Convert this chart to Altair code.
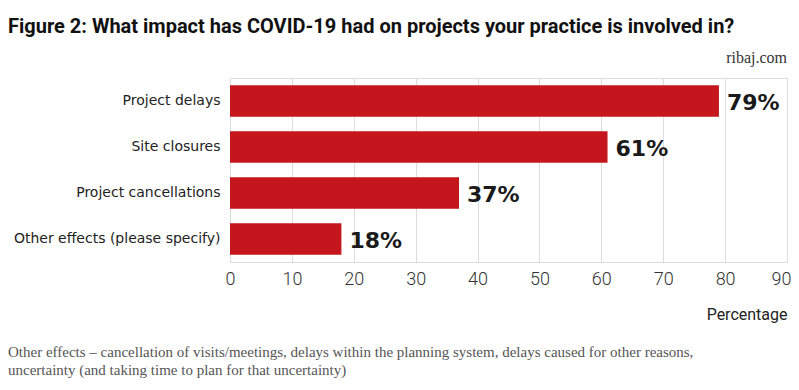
import altair as alt
import pandas as pd

categories = ["Project delays", "Site closures", "Project cancellations", "Other effects (please specify)"]
values = [79, 61, 37, 18]
labels = ["79%", "61%", "37%", "18%"]

df = pd.DataFrame({"cat": categories, "val": values, "lab": labels})

W, H = 557, 184
RED = "#c4161c"

base = alt.Chart(df)
y = alt.Y("cat:N", sort=categories, title=None,
          scale=alt.Scale(paddingInner=0.32, paddingOuter=0.16),
          axis=alt.Axis(labelFont="DejaVu Sans", labelFontSize=14, labelColor="#222",
                        labelPadding=10, ticks=False, domain=True, domainColor="#ddd",
                        labelLimit=300))
x = alt.X("val:Q", title="Percentage",
          scale=alt.Scale(domain=[0, 90], nice=False),
          axis=alt.Axis(values=list(range(0, 91, 10)), labelFont="Roboto", labelFontSize=18,
                        labelFontWeight=300,
                        labelAlign=alt.expr("datum.value == 90 ? 'right' : 'center'"),
                        labelOffset=alt.expr("datum.value == 90 ? 4 : 0"),
                        labelColor="#333", labelPadding=8, ticks=False, domainColor="#ddd",
                        gridColor="#dcdcdc", titleFont="Roboto", titleFontSize=16,
                        titleFontWeight="normal", titleColor="#222", titleAnchor="end",
                        titleAlign="right", titlePadding=18, titleX=W, labelFlush=False))

bars = base.mark_bar(color=RED).encode(x=x, y=y)
text = base.mark_text(align="left", dx=8, dy=2, font="DejaVu Sans", fontSize=22,
                      fontWeight="bold", color="#1a1a1a").encode(x="val:Q", y=alt.Y("cat:N", sort=categories), text="lab:N")

title_df = pd.DataFrame({"t": ["Figure 2: What impact has COVID-19 had on projects your practice is involved in?"]})
title = alt.Chart(title_df).mark_text(align="left", baseline="middle", font="Roboto", fontSize=20,
                                      fontWeight="bold", color="#111").encode(
    x=alt.value(-222), y=alt.value(-51), text="t:N")

src_df = pd.DataFrame({"t": ["ribaj.com"]})
src = alt.Chart(src_df).mark_text(align="right", baseline="middle", font="Liberation Serif", fontSize=16,
                                  color="#333").encode(x=alt.value(W), y=alt.value(-20), text="t:N")

note_df = pd.DataFrame({"t": ["Other effects – cancellation of visits/meetings, delays within the planning system, delays caused for other reasons,",
                              "uncertainty (and taking time to plan for that uncertainty)"],
                        "yy": [274, 292]})
note = alt.Chart(note_df).mark_text(align="left", baseline="middle", font="Liberation Serif", fontSize=15,
                                    color="#555").encode(x=alt.value(-222), y=alt.Y("yy:Q", scale=None), text="t:N")

chart = alt.layer(bars, text, title, src, note).properties(
    width=W, height=H,
    autosize=alt.AutoSizeParams(type="none"),
    padding={"left": 222, "top": 70, "right": 4, "bottom": 120},
).configure_view(stroke=None).configure(background="white")

chart.save("out.html", embed_options={"renderer": "svg", "actions": False})
